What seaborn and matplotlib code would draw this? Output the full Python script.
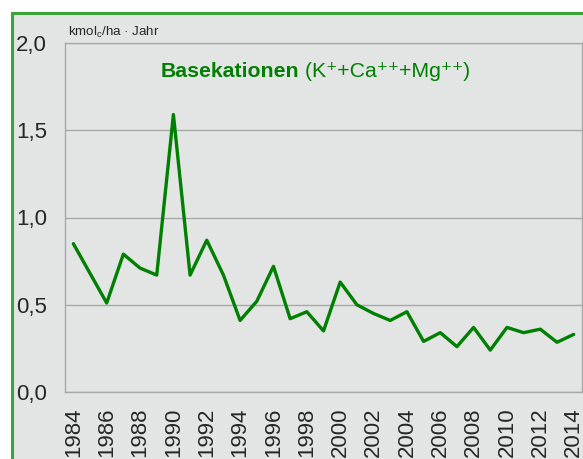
import matplotlib.pyplot as plt
import matplotlib.patches as mpatches
from matplotlib.ticker import FixedLocator, FuncFormatter
import seaborn as sns

years = list(range(1984, 2015))
basekationen = [0.85, 0.68, 0.51, 0.79, 0.71, 0.67, 1.59, 0.67, 0.87, 0.67,
                0.41, 0.52, 0.72, 0.42, 0.46, 0.35, 0.63, 0.50, 0.45, 0.41,
                0.46, 0.29, 0.34, 0.26, 0.37, 0.24, 0.37, 0.34, 0.36, 0.285,
                0.33]
y_ticks = [0.0, 0.5, 1.0, 1.5, 2.0]

BG = '#e3e4e4'
GRID = '#a8a8a8'
LINE = '#008000'
BORDER = '#3aa53a'

sns.set_style('white')
plt.rcParams['font.family'] = ['Liberation Sans', 'DejaVu Sans']

fig = plt.figure(figsize=(5.83, 4.59), dpi=100, facecolor='white')
# grey panel with green frame on top and left
fig.patches.append(mpatches.Rectangle((12 / 583, -0.1), 1.2, 1 - 13 / 459 + 0.1,
                                      transform=fig.transFigure, facecolor=BG,
                                      edgecolor=BORDER, linewidth=2.2, zorder=-10))

ax = fig.add_axes([65 / 583, 1 - 392 / 459, (582 - 65) / 583, (392 - 43) / 459])
ax.set_facecolor(BG)

sns.lineplot(x=years, y=basekationen, ax=ax, color=LINE, linewidth=2.4)

ax.set_xlim(1983.5, 2014.5)
ax.set_ylim(0, 2.0)
ax.set_xlabel('')
ax.set_ylabel('')

ax.xaxis.set_major_locator(FixedLocator(years[::2]))
ax.xaxis.set_minor_locator(FixedLocator([y + 0.5 for y in range(1983, 2015)]))
ax.tick_params(axis='x', which='major', length=0, pad=11, labelsize=16,
               labelrotation=90)
ax.tick_params(axis='x', which='minor', length=5, width=0.8, color=GRID, direction='out')

ax.set_yticks(y_ticks)
ax.yaxis.set_major_formatter(FuncFormatter(lambda v, p: f'{v:.1f}'.replace('.', ',')))
ax.tick_params(axis='y', length=5, width=0.8, color=GRID, direction='out',
               pad=8, labelsize=16)

ax.grid(axis='y', color=GRID, linewidth=1)
ax.set_axisbelow(True)
for side in ['left', 'bottom', 'top', 'right']:
    ax.spines[side].set_visible(True)
    ax.spines[side].set_color(GRID)
    ax.spines[side].set_linewidth(1)

ax.text(0.005, 1.008, r'kmol$_\mathregular{c}$/ha · Jahr', transform=ax.transAxes,
        fontsize=9.6, ha='left', va='bottom')

# title: bold part + regular part
t1 = ax.text(0.184, 0.902, 'Basekationen', transform=ax.transAxes, fontsize=15.3,
             fontweight='bold', color=LINE, ha='left', va='baseline')
fig.canvas.draw()
bb = t1.get_window_extent()
x_end = ax.transAxes.inverted().transform((bb.x1, bb.y0))[0]
ax.text(x_end, 0.902, ' (K\u207a+Ca\u207a\u207a+Mg\u207a\u207a)',
        transform=ax.transAxes, fontsize=15.3, color=LINE, ha='left', va='baseline')

fig.savefig('out.png', dpi=100, facecolor='white')
